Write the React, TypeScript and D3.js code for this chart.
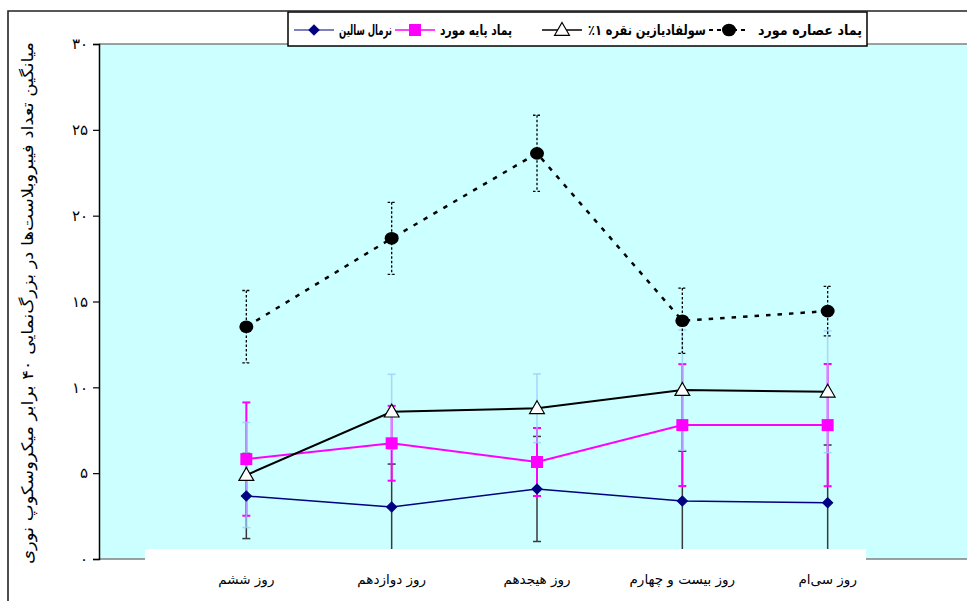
import React, { useEffect, useRef } from 'react';
import * as d3 from 'd3';

// Categories (days) and Y ticks
const CATEGORIES = ['روز ششم', 'روز دوازدهم', 'روز هیجدهم', 'روز بیست و چهارم', 'روز سی‌ام'];
const Y_TICKS = [0, 5, 10, 15, 20, 25, 30];

// Series values (mean and error)
const SALINE = [3.67, 3.03, 4.08, 3.38, 3.28];
const SALINE_ERR = [2.48, 2.5, 3.06, 2.9, 3.36];
const BASE = [5.82, 6.74, 5.65, 7.8, 7.8];
const BASE_ERR = [3.3, 2.18, 1.98, 3.55, 3.56];
const SULFA = [4.89, 8.58, 8.78, 9.84, 9.74];
const SULFA_ERR = [3.06, 2.18, 2.0, 3.5, 3.55];
const EXTRACT = [13.53, 18.68, 23.63, 13.88, 14.44];
const EXTRACT_ERR = [2.11, 2.1, 2.22, 1.9, 1.44];

const SERIES_NAMES = ['نرمال سالین', 'پماد پایه مورد', 'سولفادیازین نقره ۱٪', 'پماد عصاره مورد'];

const FONT = '"DejaVu Sans", sans-serif';
const toFa = (n: number) => String(n).replace(/\d/g, (d) => '۰۱۲۳۴۵۶۷۸۹'[+d]);

type Series = {
  name: string;
  values: number[];
  errors: number[];
  line: string;
  lineWidth: number;
  dash?: string;
  errColor: string;
  errWidth: number;
  errDash?: string;
  errOpacity: number;
  marker: 'diamond' | 'square' | 'triangle' | 'circle';
};

const SERIES: Series[] = [
  { name: SERIES_NAMES[0], values: SALINE, errors: SALINE_ERR, line: '#000080', lineWidth: 1.5, errColor: '#3a3a3a', errWidth: 1.5, errOpacity: 1, marker: 'diamond' },
  { name: SERIES_NAMES[1], values: BASE, errors: BASE_ERR, line: '#ff00ff', lineWidth: 2, errColor: '#ff00ff', errWidth: 2, errOpacity: 1, marker: 'square' },
  { name: SERIES_NAMES[2], values: SULFA, errors: SULFA_ERR, line: '#000000', lineWidth: 2, errColor: '#99ccff', errWidth: 1.6, errOpacity: 0.75, marker: 'triangle' },
  { name: SERIES_NAMES[3], values: EXTRACT, errors: EXTRACT_ERR, line: '#000000', lineWidth: 2.5, dash: '4.5,7', errColor: '#000000', errWidth: 1.3, errDash: '2.5,2', errOpacity: 1, marker: 'circle' },
];

// legend layout: [symbol center x, text right edge x, text width]
const LEGEND_POS: [number, number, number][] = [
  [314, 392, 53],
  [415, 512, 72],
  [562, 706, 118],
  [729, 862, 104],
];

const App: React.FC = () => {
  const svgRef = useRef<SVGSVGElement>(null);

  useEffect(() => {
    if (!svgRef.current) return;
    document.body.style.margin = '0';
    document.body.style.overflow = 'hidden';

    const width = 967;
    const height = 601;
    const left = 99;
    const right = 975;
    const top = 44;
    const bottom = 559;

    const svg = d3.select(svgRef.current)
      .attr('width', width)
      .attr('height', height)
      .html('');

    const x = d3.scalePoint<string>().domain(CATEGORIES).range([101, 973]).padding(1);
    const y = d3.scaleLinear().domain([0, 30]).range([bottom, top]);

    svg.append('rect').attr('width', width).attr('height', height).attr('fill', '#ffffff');

    // plot area
    svg.append('rect')
      .attr('x', left).attr('y', top)
      .attr('width', right - left).attr('height', bottom - top)
      .attr('fill', '#ccffff');
    svg.append('line').attr('x1', left).attr('x2', right).attr('y1', top).attr('y2', top)
      .attr('stroke', '#808080').attr('stroke-width', 1.5);
    svg.append('line').attr('x1', left).attr('x2', right).attr('y1', bottom).attr('y2', bottom)
      .attr('stroke', '#808080').attr('stroke-width', 1.5);

    const g = svg.append('g');

    // error bars
    SERIES.forEach((s) => {
      const eg = g.append('g')
        .attr('stroke', s.errColor)
        .attr('stroke-width', s.errWidth)
        .attr('stroke-opacity', s.errOpacity)
        .attr('stroke-dasharray', s.errDash ?? null)
        .attr('fill', 'none');
      s.values.forEach((v, i) => {
        const cx = x(CATEGORIES[i])!;
        const y1 = y(v + s.errors[i]);
        const y2 = y(v - s.errors[i]);
        eg.append('line').attr('x1', cx).attr('x2', cx).attr('y1', y1).attr('y2', y2);
        eg.append('line').attr('x1', cx - 4).attr('x2', cx + 4).attr('y1', y1).attr('y2', y1);
        eg.append('line').attr('x1', cx - 4).attr('x2', cx + 4).attr('y1', y2).attr('y2', y2);
      });
    });

    // lines
    const line = d3.line<number>()
      .x((_, i) => x(CATEGORIES[i])!)
      .y((d) => y(d));

    SERIES.forEach((s) => {
      g.append('path')
        .attr('d', line(s.values))
        .attr('fill', 'none')
        .attr('stroke', s.line)
        .attr('stroke-width', s.lineWidth)
        .attr('stroke-dasharray', s.dash ?? null);
    });

    const drawMarker = (sel: d3.Selection<SVGGElement, unknown, null, undefined>, kind: Series['marker'], cx: number, cy: number) => {
      if (kind === 'diamond') {
        sel.append('path')
          .attr('d', d3.symbol(d3.symbolSquare, 52)())
          .attr('transform', `translate(${cx},${cy}) rotate(45)`)
          .attr('fill', '#000080').attr('stroke', '#000080');
      } else if (kind === 'square') {
        sel.append('path')
          .attr('d', d3.symbol(d3.symbolSquare, 144)())
          .attr('transform', `translate(${cx},${cy})`)
          .attr('fill', '#ff00ff');
      } else if (kind === 'triangle') {
        sel.append('path')
          .attr('d', d3.symbol(d3.symbolTriangle, 95)())
          .attr('transform', `translate(${cx},${cy + 1})`)
          .attr('fill', '#ffffff').attr('stroke', '#000000').attr('stroke-width', 1.2);
      } else {
        sel.append('ellipse')
          .attr('cx', cx).attr('cy', cy).attr('rx', 7).attr('ry', 6.3)
          .attr('fill', '#000000');
      }
    };

    SERIES.forEach((s) => {
      const mg = g.append('g');
      s.values.forEach((v, i) => drawMarker(mg, s.marker, x(CATEGORIES[i])!, y(v)));
    });

    // white box under category labels
    svg.append('rect')
      .attr('x', 145).attr('y', 549)
      .attr('width', 721).attr('height', height - 549)
      .attr('fill', '#ffffff');

    // y axis
    const yAxis = svg.append('g')
      .attr('transform', `translate(${left},0)`)
      .call(d3.axisLeft(y).tickValues(Y_TICKS).tickFormat((d) => toFa(d as number)).tickSize(6).tickPadding(5));
    yAxis.select('.domain').attr('stroke', '#000').attr('stroke-width', 1.5);
    yAxis.selectAll('.tick line').attr('stroke', '#000').attr('stroke-width', 1.2);
    yAxis.selectAll('.tick text')
      .attr('font-family', FONT).attr('font-size', 15).attr('fill', '#000');

    // category labels
    svg.append('g').selectAll('text')
      .data(CATEGORIES)
      .enter()
      .append('text')
      .attr('x', (d) => x(d)!)
      .attr('y', 584)
      .attr('text-anchor', 'middle')
      .attr('direction', 'rtl')
      .attr('font-family', FONT)
      .attr('font-size', 13.5)
      .attr('fill', '#000')
      .text((d) => d);

    // y title
    svg.append('text')
      .attr('transform', `translate(33,303) rotate(-90)`)
      .attr('text-anchor', 'middle')
      .attr('direction', 'rtl')
      .attr('font-family', FONT)
      .attr('font-size', 16)
      .attr('textLength', 522)
      .attr('lengthAdjust', 'spacingAndGlyphs')
      .attr('fill', '#000')
      .text('میانگین تعداد فیبروبلاست‌ها در بزرگ‌نمایی ۴۰ برابر میکروسکوپ نوری');

    // legend
    const lg = svg.append('g');
    lg.append('rect')
      .attr('x', 288).attr('y', 12)
      .attr('width', 579).attr('height', 34)
      .attr('fill', '#ffffff').attr('stroke', '#000').attr('stroke-width', 1.5);

    SERIES.forEach((s, i) => {
      const [sx, tx, tw] = LEGEND_POS[i];
      const cy = 30;
      lg.append('line')
        .attr('x1', sx - 20).attr('x2', sx + 20).attr('y1', cy).attr('y2', cy)
        .attr('stroke', s.line).attr('stroke-width', s.lineWidth - 0.3)
        .attr('stroke-dasharray', s.dash ? '4,4' : null);
      drawMarker(lg, s.marker, sx, cy);
      lg.append('text')
        .attr('x', tx).attr('y', cy + 5)
        .attr('text-anchor', 'start')
        .attr('direction', 'rtl')
        .attr('font-family', FONT)
        .attr('font-weight', 'bold')
        .attr('font-size', 14)
        .attr('textLength', tw)
        .attr('lengthAdjust', 'spacingAndGlyphs')
        .attr('fill', '#000')
        .text(s.name);
    });

    // outer chart border
    svg.append('path')
      .attr('d', `M8,${height} V11 H${width}`)
      .attr('fill', 'none').attr('stroke', '#222').attr('stroke-width', 1.6);
  }, []);

  return (
    <svg ref={svgRef} style={{ position: 'fixed', left: 0, top: 0, display: 'block' }}></svg>
  );
};

export default App;
